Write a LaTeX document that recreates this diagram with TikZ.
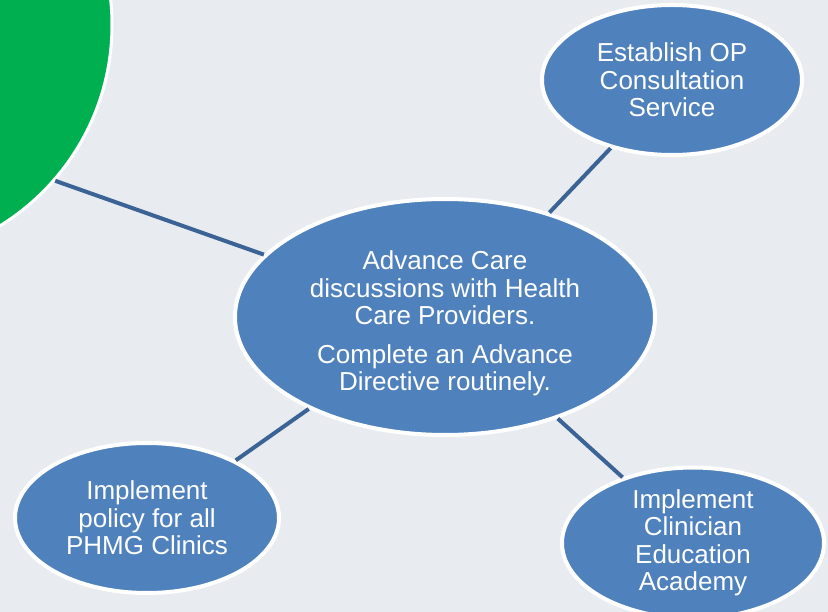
\documentclass[tikz,border=0pt]{standalone}
\usepackage{fontspec}
\setmainfont{Liberation Sans}
\usetikzlibrary{shapes.geometric}
\definecolor{bgc}{HTML}{E8ECF0}
\definecolor{bluefill}{HTML}{4F81BD}
\definecolor{connc}{HTML}{3C6395}
\definecolor{greenfill}{HTML}{00B050}
\tikzset{
  bub/.style={ellipse, fill=bluefill, draw=white, line width=4pt, inner sep=0pt,
    text=white, align=center, font=\fontsize{26}{27.5}\selectfont},
  conn/.style={draw=connc, line width=4pt},
}
\begin{document}
\begin{tikzpicture}[x=1pt,y=-1pt]
\useasboundingbox (0,0) rectangle (828,612);
\fill[bgc] (0,0) rectangle (828,612);
\clip (0,0) rectangle (828,612);
\node[circle, fill=greenfill, draw=white, line width=3pt, minimum size=472pt, inner sep=0pt] (green) at (-124,25) {};
\node[bub, minimum width=420pt, minimum height=236pt] (center) at (445,317)
  {\begin{tabular}{@{}c@{}}\rule{0pt}{35pt}Advance Care\\discussions with Health\\Care Providers.\\[11pt]Complete an Advance\\Directive routinely.\end{tabular}};
\node[bub, minimum width=260pt, minimum height=150pt] (tr) at (672,80)
  {Establish OP\\Consultation\\Service};
\node[bub, minimum width=264pt, minimum height=150pt] (bl) at (147,518)
  {Implement\\policy for all\\PHMG Clinics};
\node[bub, minimum width=262pt, minimum height=150pt] (br) at (693,543)
  {Implement\\Clinician\\Education\\Academy};
\draw[conn] (green.-41.6) -- (center.161.2);
\draw[conn] (tr.228.5) -- (center.45.8);
\draw[conn] (bl.33.4) -- (center.214.6);
\draw[conn] (br.137.5) -- (center.-42.4);
\end{tikzpicture}
\end{document}
